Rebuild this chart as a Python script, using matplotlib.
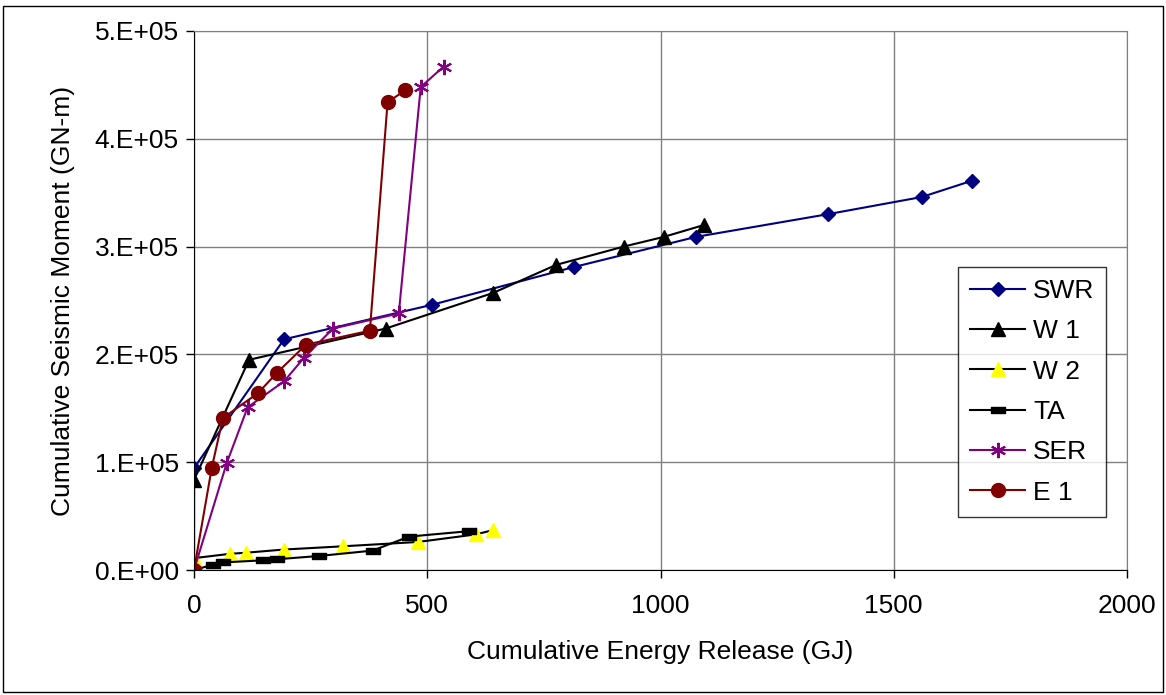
import numpy as np
import matplotlib.pyplot as plt
from matplotlib.path import Path
from matplotlib.patches import Rectangle

plt.rcParams["font.family"] = ["Liberation Sans", "DejaVu Sans"]

# cumulative energy (GJ) and cumulative seismic moment (GN-m)
swr_x = [0, 0, 193, 510, 814, 1076, 1358, 1560, 1667]
swr_y = [0, 94.6e3, 214e3, 246e3, 281e3, 309e3, 330e3, 346e3, 361e3]

w1_x = [0, 0, 118, 411, 641, 776, 921, 1007, 1093]
w1_y = [0, 83.5e3, 195e3, 224e3, 257e3, 283e3, 300e3, 309e3, 320e3]

w2_x = [0, 77, 111, 193, 320, 480, 604, 641]
w2_y = [11e3, 15e3, 16e3, 19e3, 22e3, 26e3, 33e3, 37e3]

ta_x = [0, 41, 62, 148, 178, 268, 383, 461, 589]
ta_y = [0, 5e3, 7e3, 9e3, 10e3, 13e3, 18e3, 31e3, 36e3]

ser_x = [0, 70, 115, 193, 236, 298, 439, 486, 535]
ser_y = [0, 99e3, 151e3, 175e3, 197e3, 224e3, 238e3, 448e3, 467e3]

e1_x = [0, 38, 62, 137, 178, 240, 377, 415, 453]
e1_y = [0, 94.6e3, 141e3, 164e3, 183e3, 209e3, 222e3, 434e3, 445e3]

x_ticks = [0, 500, 1000, 1500, 2000]
y_ticks = [0, 1e5, 2e5, 3e5, 4e5, 5e5]
y_tick_labels = ["0.E+00", "1.E+05", "2.E+05", "3.E+05", "4.E+05", "5.E+05"]

# flat black bar marker used by Excel for TA
bar = Path([(-1, -0.38), (1, -0.38), (1, 0.38), (-1, 0.38), (-1, -0.38)],
           [Path.MOVETO, Path.LINETO, Path.LINETO, Path.LINETO, Path.CLOSEPOLY])

fig = plt.figure(figsize=(11.66, 6.95), dpi=100)
ax = fig.add_axes([194 / 1166, 1 - 570 / 695, (1127 - 194) / 1166, (570 - 31) / 695])

lw = 1.5
ax.plot(swr_x, swr_y, color="#000080", lw=lw, marker="D", ms=7, label="SWR")
ax.plot(w1_x, w1_y, color="black", lw=lw, marker="^", ms=10, label="W 1")
ax.plot(w2_x, w2_y, color="black", lw=lw, marker="^", ms=10,
        mfc="#FFFF00", mec="#FFFF00", label="W 2")
ax.plot(ta_x, ta_y, color="black", lw=lw, marker=bar, ms=10, label="TA")
ax.plot(ser_x, ser_y, color="#800080", lw=lw, marker=(6, 2, 0), ms=11,
        mew=1.5, label="SER")
ax.plot(e1_x, e1_y, color="#800000", lw=lw, marker="o", ms=10, label="E 1")

ax.set_xlim(0, 2000)
ax.set_ylim(0, 5e5)
ax.set_xticks(x_ticks)
ax.set_yticks(y_ticks)
ax.set_yticklabels(y_tick_labels)
ax.tick_params(labelsize=19, direction="out", length=6, width=1, pad=5)
ax.tick_params(axis="x", pad=11)
ax.grid(True, color="#808080", lw=1)
ax.set_axisbelow(True)
for s in ["top", "right"]:
    ax.spines[s].set_color("#808080")
for s in ["left", "bottom"]:
    ax.spines[s].set_color("black")

ax.set_xlabel("Cumulative Energy Release (GJ)", fontsize=19, labelpad=16)
ax.set_ylabel("Cumulative Seismic Moment (GN-m)", fontsize=19, labelpad=14)

leg = ax.legend(loc="upper left", bbox_to_anchor=(958 / 1166, 1 - 267 / 695),
                bbox_transform=fig.transFigure, fontsize=19, frameon=True,
                fancybox=False, borderaxespad=0, handlelength=2.1,
                labelspacing=0.62, borderpad=0.45, handletextpad=0.3)
leg.get_frame().set_edgecolor("black")
leg.get_frame().set_linewidth(1)

# outer chart border
fig.patches.append(Rectangle((3 / 1166, 3 / 695), 1160 / 1166, 686 / 695,
                             transform=fig.transFigure, fill=False,
                             edgecolor="black", lw=1))

fig.savefig("out.png", dpi=100)
